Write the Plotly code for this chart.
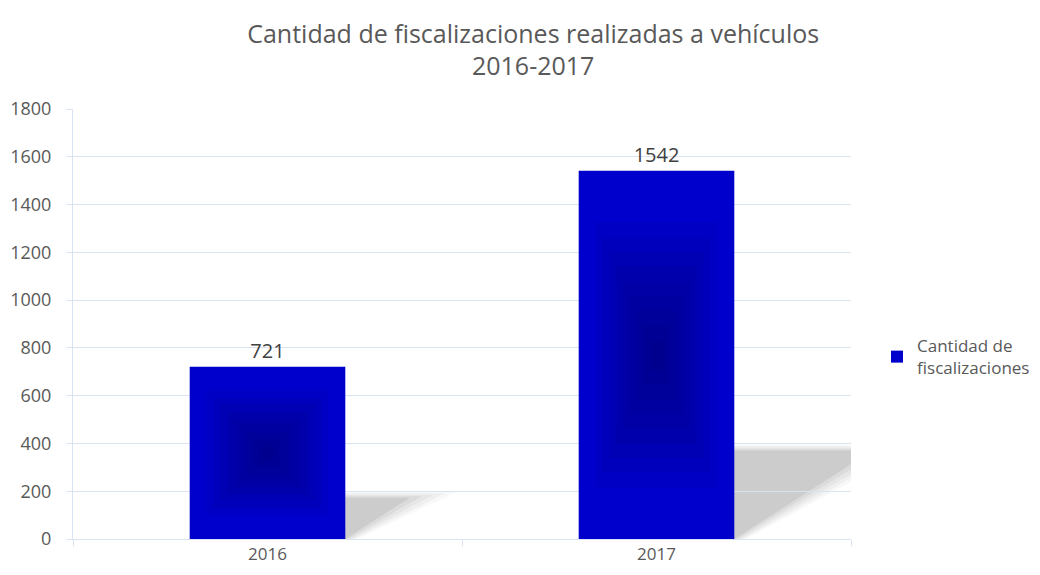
import plotly.graph_objects as go

categories = ["2016", "2017"]
values = [721, 1542]
series_name = "Cantidad de<br>fiscalizaciones"
title_lines = ["Cantidad de fiscalizaciones realizadas a vehículos", "2016-2017"]

font_family = "Open Sans, Liberation Sans, sans-serif"
grid_color = "#D9E3F3"
text_color = "#595959"
bar_color = "#0000CC"
bar_width = 0.4

fig = go.Figure()

# main bars
fig.add_trace(go.Bar(
    x=categories, y=values, name=series_name,
    marker=dict(color=bar_color, line=dict(width=0)),
    width=bar_width,
    text=[str(v) for v in values], textposition="outside",
    textfont=dict(size=20, color="#404040", family=font_family),
    cliponaxis=False, showlegend=True,
))

# soft darker centre (decorative shading layered on each bar)
steps = 9
for k in range(steps):
    s = 1 - k / steps
    fig.add_trace(go.Bar(
        x=categories,
        y=[v * 0.72 * s for v in values],
        base=[v * (0.5 - 0.36 * s) for v in values],
        width=bar_width * 0.78 * s,
        marker=dict(color="rgba(0,0,70,0.06)", line=dict(width=0)),
        showlegend=False, hoverinfo="skip",
    ))

# blurred cast shadows, derived from bar values
shapes = []
layers = [(0.12, 0.05), (0.09, 0.06), (0.06, 0.07), (0.03, 0.09), (0.0, 0.14)]
for i, v in enumerate(values):
    h = 0.24 * v
    d = 0.00023 * v
    for grow, alpha in layers:
        x0 = i - bar_width / 2
        x1 = i + bar_width / 2
        top = h + grow * 200
        path = (f"M {x0} 0 L {x1 + grow*0.25} 0 L {x1 + d + grow} {top} "
                f"L {x0 + d} {top} Z")
        shapes.append(dict(type="path", path=path, xref="x", yref="y",
                           fillcolor=f"rgba(110,110,110,{alpha})",
                           line=dict(width=0), layer="below"))

fig.update_layout(
    width=1040, height=575,
    paper_bgcolor="white", plot_bgcolor="white",
    margin=dict(l=65, r=197, t=101, b=44),
    title=dict(text="<br>".join(title_lines), x=0.505, xanchor="center",
               y=0.940, yanchor="top", yref="container",
               font=dict(size=25, color=text_color, family=font_family)),
    font=dict(family=font_family, color=text_color),
    showlegend=True,
    legend=dict(x=0.8356, y=0.393, xref="container", yref="container",
                xanchor="left", yanchor="middle",
                font=dict(size=17, color=text_color), itemwidth=30,
                bgcolor="rgba(0,0,0,0)"),
    barmode="overlay",
    shapes=shapes,
)
fig.update_xaxes(
    type="category", showgrid=False, showline=True, linecolor=grid_color, linewidth=1,
    ticks="outside", tickson="boundaries", ticklen=6, tickcolor=grid_color,
    tickfont=dict(size=17, color=text_color), zeroline=False, automargin=False,
    range=[-0.5, 1.5],
)
fig.update_yaxes(
    range=[0, 1800], dtick=200, showgrid=True, gridcolor=grid_color, gridwidth=1,
    showline=True, linecolor=grid_color, ticks="outside", ticklen=6, tickcolor=grid_color,
    tickfont=dict(size=18, color=text_color), zeroline=False, automargin=False,
    ticklabelstandoff=11,
)

fig.write_html("out.html")
